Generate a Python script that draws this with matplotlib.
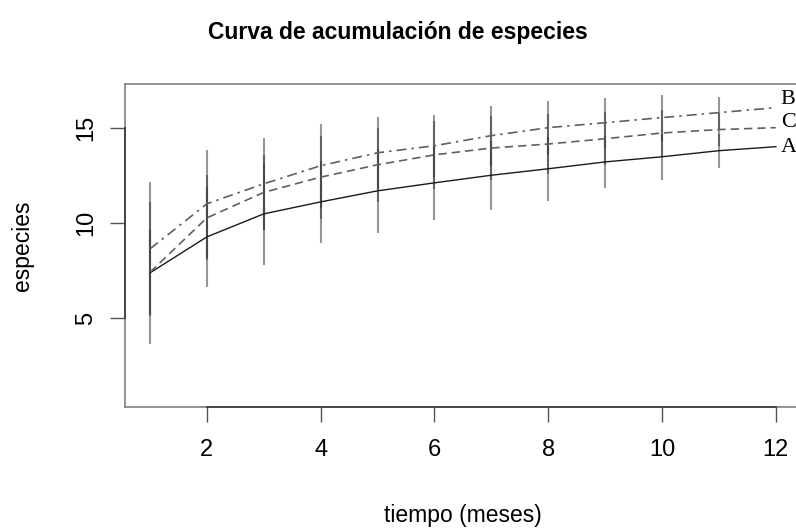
import matplotlib
matplotlib.use("Agg")
import matplotlib.pyplot as plt
import numpy as np

months = [1, 2, 3, 4, 5, 6, 7, 8, 9, 10, 11, 12]
A = [7.37, 9.26, 10.47, 11.10, 11.68, 12.10, 12.50, 12.84, 13.20, 13.47, 13.79, 14.00]
B = [8.63, 11.00, 12.05, 13.00, 13.68, 14.05, 14.58, 15.00, 15.26, 15.53, 15.79, 16.05]
C = [7.40, 10.26, 11.60, 12.40, 13.05, 13.57, 13.93, 14.14, 14.42, 14.72, 14.90, 15.00]
A_sd = [3.73, 2.63, 2.67, 2.15, 2.20, 1.94, 1.82, 1.68, 1.36, 1.21, 0.89, 0.0]
B_sd = [3.53, 2.84, 2.42, 2.20, 1.90, 1.63, 1.58, 1.42, 1.32, 1.21, 0.84, 0.0]
C_sd = [2.21, 2.24, 1.98, 2.18, 1.95, 1.80, 1.70, 1.60, 1.40, 1.20, 0.85, 0.0]
xticks = [2, 4, 6, 8, 10, 12]
yticks = [5, 10, 15]

plt.rcParams['font.family'] = ['Liberation Sans', 'DejaVu Sans']

fig = plt.figure(figsize=(7.96, 5.31), dpi=100)
ax = fig.add_axes([0.157, 0.2335, 0.849, 0.6085])

x = np.array(months)
for vals, sd in [(A, A_sd), (B, B_sd), (C, C_sd)]:
    v = np.array(vals); s = np.array(sd)
    m = s > 0
    ax.vlines(x[m], v[m] - s[m], v[m] + s[m], colors='#303030', alpha=0.5, lw=1.5, zorder=2)

ax.plot(x, A, color='#1a1a1a', lw=1.0, ls='-', zorder=3)
ax.plot(x, C, color='#606060', lw=1.2, ls=(0, (5, 3)), zorder=3)
ax.plot(x, B, color='#606060', lw=1.2, ls=(0, (6, 3, 1.5, 3)), zorder=3)

ax.set_xlim(0.56, 12.44)
ax.set_ylim(0.32, 17.3)

for sp in ax.spines.values():
    sp.set_color('#808080')
    sp.set_linewidth(1.2)

ax.set_xticks(xticks)
ax.set_yticks(yticks)
ax.tick_params(axis='both', direction='out', length=11, width=1.0, color='#555555',
               labelsize=17, pad=12)
ax.tick_params(axis='y', pad=9)
for lbl in ax.get_yticklabels():
    lbl.set_rotation(90)
    lbl.set_va('center')

# axis lines over tick range (R style)
ax.plot([xticks[0], xticks[-1]], [0.32, 0.32], color='#444444', lw=1.4, clip_on=False, zorder=5)
ax.plot([0.56, 0.56], [yticks[0], yticks[-1]], color='#444444', lw=1.4, clip_on=False, zorder=5)

ax.set_xlabel('tiempo (meses)', fontsize=16.5, labelpad=31)
ax.set_ylabel('especies', fontsize=16.5, labelpad=30)

fig.text(0.5, 0.938, 'Curva de acumulación de especies', ha='center', va='center',
         fontsize=16.5, fontweight='bold')

ser = ['Liberation Serif', 'DejaVu Serif']
ax.annotate('B', (12, B[-1]), xytext=(5, 8), textcoords='offset pixels', va='center', ha='left',
            fontsize=16, family=ser, annotation_clip=False)
ax.annotate('C', (12, C[-1]), xytext=(5, 5), textcoords='offset pixels', va='center', ha='left',
            fontsize=16, family=ser, annotation_clip=False)
ax.annotate('A', (12, A[-1]), xytext=(5, -1), textcoords='offset pixels', va='center', ha='left',
            fontsize=16, family=ser, annotation_clip=False)

fig.savefig('out.png', dpi=100)
